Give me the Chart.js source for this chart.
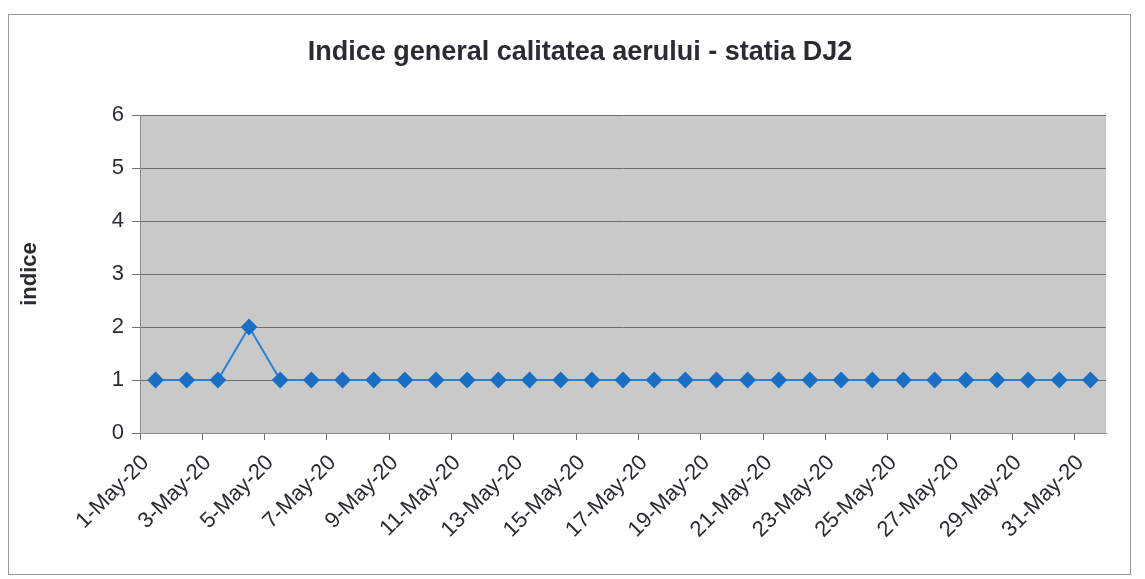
<!DOCTYPE html>
<html>
<head>
<meta charset="utf-8">
<script src="https://cdn.jsdelivr.net/npm/chart.js@4/dist/chart.umd.min.js"></script>
<style>
  html, body { margin: 0; padding: 0; background: #ffffff; }
  #wrap { width: 1145px; height: 579px; position: relative; }
</style>
</head>
<body>
<div id="wrap"><canvas id="indice"></canvas></div>
<script>
  const titleText = "Indice general calitatea aerului - statia DJ2";
  const days = [
    "1-May-20", "2-May-20", "3-May-20", "4-May-20", "5-May-20", "6-May-20",
    "7-May-20", "8-May-20", "9-May-20", "10-May-20", "11-May-20", "12-May-20",
    "13-May-20", "14-May-20", "15-May-20", "16-May-20", "17-May-20", "18-May-20",
    "19-May-20", "20-May-20", "21-May-20", "22-May-20", "23-May-20", "24-May-20",
    "25-May-20", "26-May-20", "27-May-20", "28-May-20", "29-May-20", "30-May-20",
    "31-May-20"
  ];
  const indiceDJ2 = [
    1, 1, 1, 2, 1, 1, 1, 1, 1, 1, 1, 1, 1, 1, 1, 1,
    1, 1, 1, 1, 1, 1, 1, 1, 1, 1, 1, 1, 1, 1, 1
  ];
  const yTicks = [0, 1, 2, 3, 4, 5, 6];

  // grey plot area, thin outer frame and the title (centred like in Excel, not on the canvas)
  const frame = {
    id: "frame",
    beforeDraw(chart) {
      const { ctx, chartArea: a } = chart;
      ctx.save();
      ctx.fillStyle = "#c9c9c9";
      ctx.fillRect(a.left, a.top, a.right - a.left, a.bottom - a.top);
      ctx.strokeStyle = "#9a9a9a";
      ctx.lineWidth = 1;
      ctx.strokeRect(8.5, 14.5, 1122, 560);
      ctx.fillStyle = "#2b2b33";
      ctx.font = "bold 27px Arial, 'Liberation Sans'";
      ctx.textAlign = "center";
      ctx.textBaseline = "middle";
      ctx.fillText(titleText, 580, 53);
      ctx.restore();
    }
  };

  const chart = new Chart(document.getElementById("indice").getContext("2d"), {
    type: "line",
    data: {
      labels: days,
      datasets: [
        {
          data: indiceDJ2,
          borderColor: "#2a82d4",
          borderWidth: 2,
          backgroundColor: "#1a6fc4",
          pointStyle: "rectRot",
          pointRadius: 7,
          pointBorderColor: "#1a6fc4",
          pointBackgroundColor: "#1a6fc4",
          tension: 0,
          fill: false
        }
      ]
    },
    plugins: [frame],
    options: {
      responsive: true,
      maintainAspectRatio: false,
      animation: false,
      layout: { padding: { left: 10, right: 39, top: 115, bottom: 0 } },
      plugins: {
        legend: { display: false },
        tooltip: { enabled: false },
        title: { display: false }
      },
      scales: {
        x: {
          offset: true,
          grid: {
            offset: true,
            drawOnChartArea: false,
            tickLength: 7,
            tickColor: (c) => (c.index % 2 === 0 ? "#707070" : "rgba(0,0,0,0)")
          },
          border: { color: "#8a8a8a", width: 1 },
          ticks: {
            autoSkip: false,
            maxRotation: 45,
            minRotation: 45,
            padding: 10,
            labelOffset: -10,
            color: "#2b2b33",
            font: { family: "Arial, 'Liberation Sans'", size: 22 },
            callback: (v, i) => (i % 2 === 0 ? days[i] : "")
          },
          afterFit: (s) => { s.height = 146; }
        },
        y: {
          min: 0,
          max: 6,
          afterBuildTicks: (s) => { s.ticks = yTicks.map((v) => ({ value: v })); },
          grid: { color: "#6e6e6e", lineWidth: 1, tickLength: 8, tickColor: "#707070" },
          border: { color: "#8a8a8a", width: 1 },
          ticks: {
            padding: 8,
            color: "#2b2b33",
            font: { family: "Arial, 'Liberation Sans'", size: 22 }
          },
          title: {
            display: true,
            text: "indice",
            color: "#2b2b33",
            font: { family: "Arial, 'Liberation Sans'", size: 22, weight: "bold" },
            padding: { top: 7, bottom: 0 }
          },
          afterFit: (s) => { s.width = 130; }
        }
      }
    }
  });
</script>
</body>
</html>
